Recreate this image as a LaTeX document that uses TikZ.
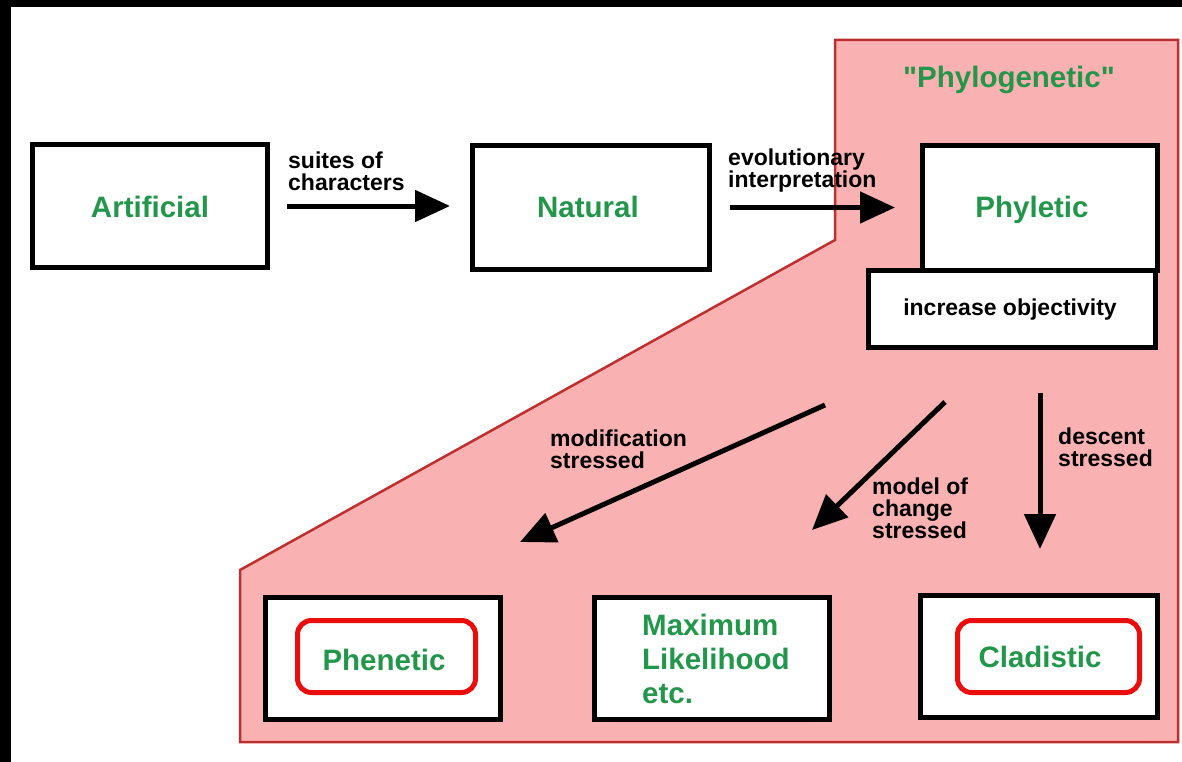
\documentclass[tikz,border=0pt]{standalone}
\usepackage{fontspec}
\setmainfont{Liberation Sans}[Ligatures=TeXOff]
\usetikzlibrary{arrows.meta}
\definecolor{termgreen}{RGB}{34,150,74}
\definecolor{zonefill}{RGB}{250,177,177}
\definecolor{zoneedge}{RGB}{190,48,48}
\definecolor{ringred}{RGB}{235,12,12}
\tikzset{
  zone/.style={fill=zonefill, draw=zoneedge, line width=2.5pt},
  box/.style={draw=black, fill=white, line width=5pt, inner sep=0pt},
  ring/.style={draw=ringred, fill=white, line width=5pt, rounded corners=14pt, inner sep=0pt},
  term/.style={text=termgreen, inner sep=0pt, font=\fontsize{29.5}{34}\selectfont\bfseries},
  note/.style={text=black, inner sep=0pt, align=left, font=\fontsize{23}{21.5}\selectfont\bfseries},
  flow/.style={draw=black, line width=5pt, -{Triangle[length=35pt,width=31pt]}}
}
\begin{document}
\begin{tikzpicture}[x=1pt, y=-1pt]
\useasboundingbox (0,0) rectangle (1182,762);
\fill[white] (0,0) rectangle (1182,762);
% dark frame along the top and left edges
\fill[black] (0,0) rectangle (1182,7);
\fill[black] (0,0) rectangle (11,762);

% "Phylogenetic" region
\draw[zone] (835,40) -- (1178,40) -- (1178,742) -- (240,742) -- (240,570) -- (835,240) -- cycle;
\node[term, anchor=base] (phylogenetic) at (1009,88) {"Phylogenetic"};

% top row
\node[box, minimum width=235pt, minimum height=123pt] (artificial) at (150,206) {};
\node[term, anchor=base] (artificialtxt) at (150,217) {Artificial};
\node[box, minimum width=237pt, minimum height=124pt] (natural) at (591,207.5) {};
\node[term, anchor=base] (naturaltxt) at (588,217) {Natural};
\node[box, minimum width=235pt, minimum height=125pt] (phyletic) at (1040,208) {};
\node[term, anchor=base] (phyletictxt) at (1032,217) {Phyletic};
\node[box, minimum width=287pt, minimum height=77pt] (objectivity) at (1012,309) {};
\node[note, anchor=base] (objectivitytxt) at (1010,315) {increase objectivity};

% bottom row
\node[box, minimum width=235pt, minimum height=122pt] (phenetic) at (383,658.5) {};
\node[ring, minimum width=178pt, minimum height=72pt] (pheneticring) at (386.5,656.5) {};
\node[term, anchor=base] (phenetictxt) at (384,670) {Phenetic};
\node[box, minimum width=235pt, minimum height=122pt] (maxlik) at (712,658.5) {};
\node[term, anchor=north west, align=left] (maxliktxt) at (642,613.5) {Maximum\\Likelihood\\etc.};
\node[box, minimum width=237pt, minimum height=122pt] (cladistic) at (1039,656.5) {};
\node[ring, minimum width=182pt, minimum height=72pt] (cladisticring) at (1048.5,656.5) {};
\node[term, anchor=base] (cladistictxt) at (1040,667) {Cladistic};

% horizontal transitions
\draw[flow, shorten <=17pt, shorten >=20pt] (artificial.east) -- (artificial.east -| natural.west);
\node[note, anchor=north west] (suites) at (288,152) {suites of\\characters};
\draw[flow, shorten <=18pt, shorten >=25pt] (natural.east) -- (natural.east -| phyletic.west);
\node[note, anchor=north west] (evolution) at (728,149) {evolutionary\\interpretation};

% branches below the phyletic box
\coordinate (modfrom) at (825,405);
\coordinate (modto) at (520,542);
\coordinate (changefrom) at (945,402);
\coordinate (changeto) at (812,530);
\coordinate (descfrom) at (1040,393);
\coordinate (descto) at (1040,549);
\draw[flow] (modfrom) -- (modto);
\draw[flow] (changefrom) -- (changeto);
\draw[flow] (descfrom) -- (descto);
\node[note, anchor=north west] (modlabel) at (550,430) {modification\\stressed};
\node[note, anchor=north west] (changelabel) at (872,478) {model of\\change\\stressed};
\node[note, anchor=north west] (desclabel) at (1058,428) {descent\\stressed};
\end{tikzpicture}
\end{document}
